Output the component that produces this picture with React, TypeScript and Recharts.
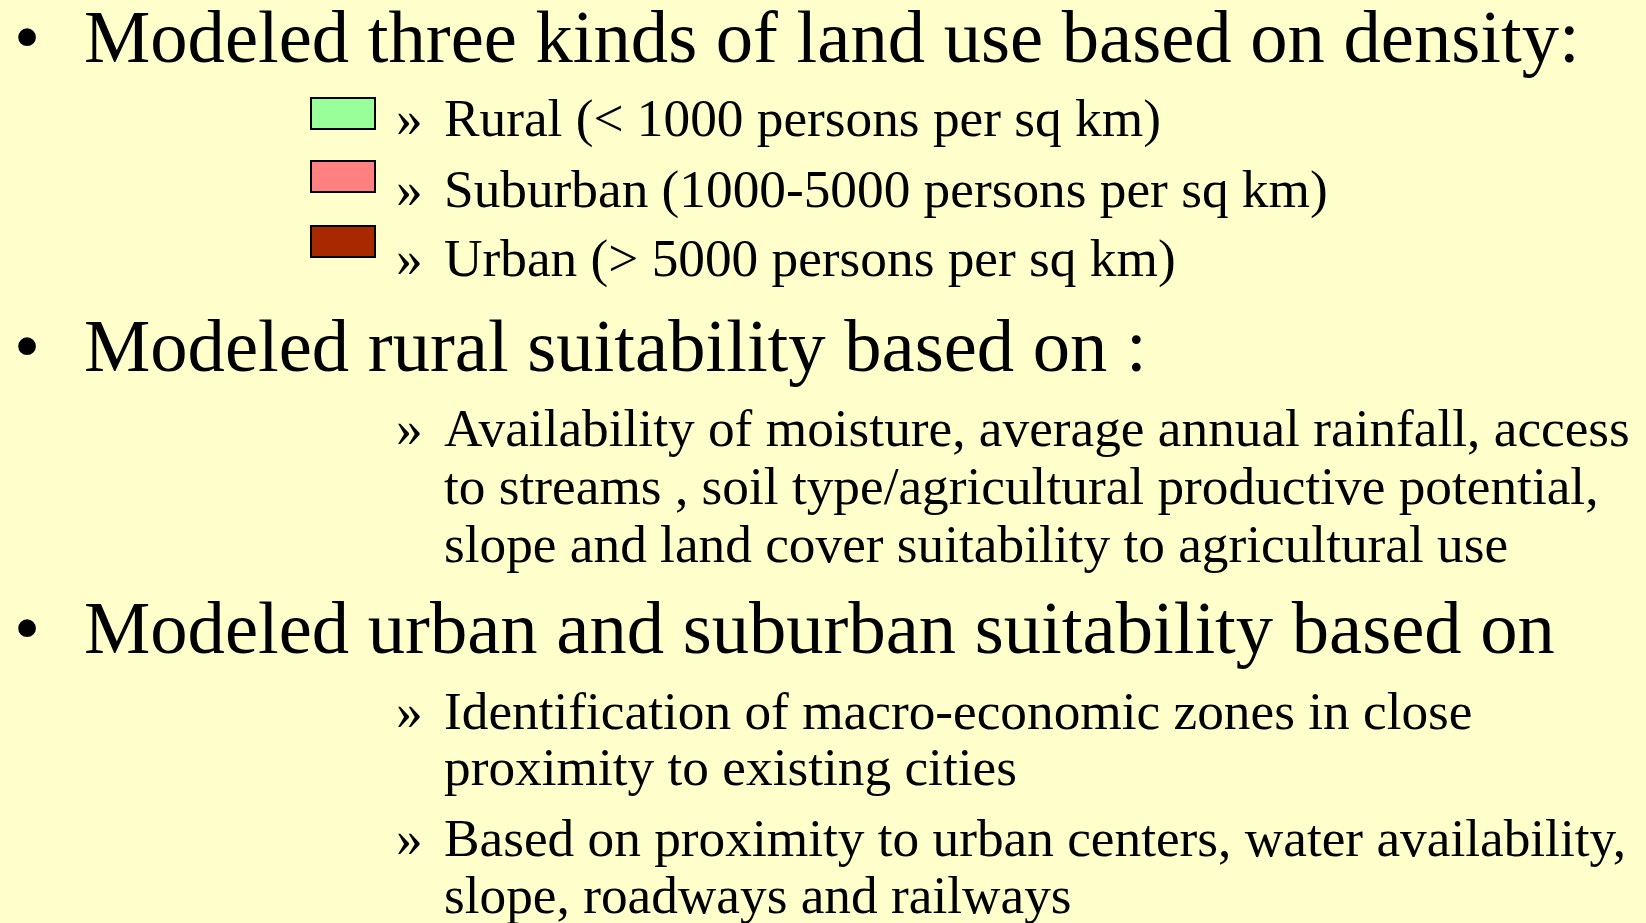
import React from "react";
import { Surface, Rectangle } from "recharts";

const W = 1646;
const H = 923;

const headings = [
  "Modeled three kinds of land use based on density:",
  "Modeled rural suitability based on :",
  "Modeled urban and suburban suitability based on",
];
const headingBaselines = [62, 371, 653];

const landUseNames = ["Rural (< 1000 persons per sq km)", "Suburban (1000-5000 persons per sq km)", "Urban (> 5000 persons per sq km)"];
const landUseColors = ["#99FF99", "#FF8080", "#A82800"];
const landUseBaselines = [136, 207, 276];
const swatchTops = [98, 161, 226];

const ruralLines = [
  "Availability of moisture, average annual rainfall, access",
  "to streams , soil type/agricultural productive potential,",
  "slope and land cover suitability to agricultural use",
];
const ruralBaselines = [446, 504, 562];

const urbanItems = [
  ["Identification of macro-economic zones in close", "proximity to existing cities"],
  ["Based on proximity to urban centers, water availability,", "slope, roadways and railways"],
];
const urbanBaselines = [
  [729, 785],
  [856, 913],
];

const FONT = "'Liberation Serif', 'Times New Roman', serif";
const BIG = 74.6;
const SMALL = 53.3;
const BULLET_X = 14;
const HEAD_X = 84;
const RAQUO_X = 396;
const SUB_X = 444;

function Line({ x, y, size, text }: { x: number; y: number; size: number; text: string }) {
  return (
    <text x={x} y={y} fontFamily={FONT} fontSize={size} fill="#000">
      {text}
    </text>
  );
}

export default function App() {
  return (
    <div style={{ position: "absolute", left: 0, top: 0, width: W, height: H, background: "#FFFFCC", overflow: "hidden" }}>
      <Surface width={W} height={H}>
        {headings.map((h, i) => (
          <g key={"h" + i}>
            <Line x={BULLET_X} y={headingBaselines[i]} size={BIG} text={"•"} />
            <Line x={HEAD_X} y={headingBaselines[i]} size={BIG} text={h} />
          </g>
        ))}
        {landUseNames.map((n, i) => (
          <g key={"l" + i}>
            <Rectangle x={311} y={swatchTops[i]} width={64} height={31} fill={landUseColors[i]} stroke="#000" strokeWidth={2} />
            <Line x={RAQUO_X} y={landUseBaselines[i]} size={SMALL} text={"»"} />
            <Line x={SUB_X} y={landUseBaselines[i]} size={SMALL} text={n} />
          </g>
        ))}
        {ruralLines.map((t, i) => (
          <g key={"r" + i}>
            {i === 0 && <Line x={RAQUO_X} y={ruralBaselines[i]} size={SMALL} text={"»"} />}
            <Line x={SUB_X} y={ruralBaselines[i]} size={SMALL} text={t} />
          </g>
        ))}
        {urbanItems.map((item, j) =>
          item.map((t, i) => (
            <g key={"u" + j + "-" + i}>
              {i === 0 && <Line x={RAQUO_X} y={urbanBaselines[j][i]} size={SMALL} text={"»"} />}
              <Line x={SUB_X} y={urbanBaselines[j][i]} size={SMALL} text={t} />
            </g>
          ))
        )}
      </Surface>
    </div>
  );
}
